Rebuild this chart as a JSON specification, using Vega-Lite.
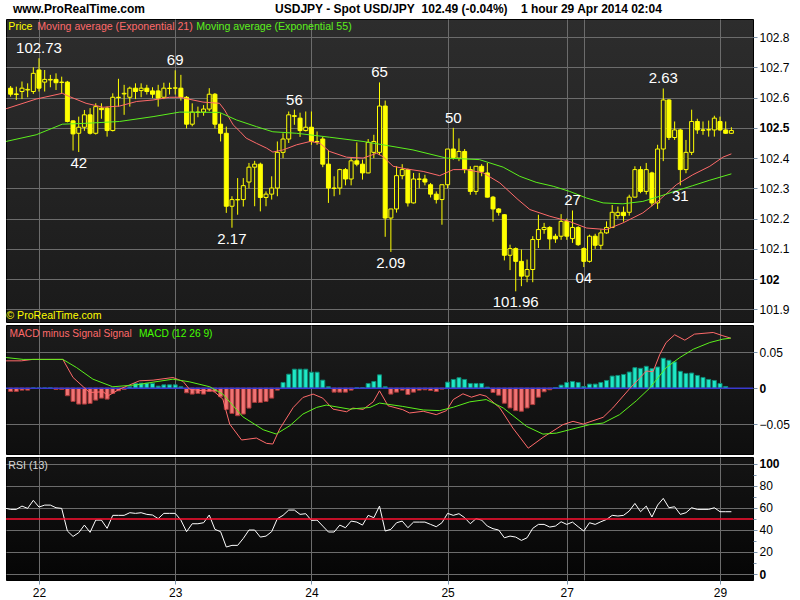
{
  "$schema": "https://vega.github.io/schema/vega-lite/v6.json",
  "background": "white",
  "padding": {"left": 3, "top": 2, "right": 0, "bottom": 0},
  "bounds": "flush",
  "title": {
    "text": "www.ProRealTime.com\u00a0\u00a0\u00a0\u00a0\u00a0\u00a0\u00a0\u00a0\u00a0\u00a0\u00a0\u00a0\u00a0\u00a0\u00a0\u00a0\u00a0\u00a0\u00a0\u00a0\u00a0\u00a0\u00a0\u00a0\u00a0\u00a0\u00a0\u00a0\u00a0\u00a0\u00a0\u00a0\u00a0\u00a0\u00a0\u00a0\u00a0\u00a0\u00a0USDJPY - Spot USD/JPY\u00a0\u00a0102.49 (-0.04%)\u00a0\u00a0\u00a0\u00a01 hour 29 Apr 2014 02:04",
    "anchor": "start",
    "frame": "group",
    "font": "Liberation Sans",
    "fontSize": 12,
    "fontWeight": "bold",
    "color": "black",
    "offset": 3,
    "dx": 7
  },
  "spacing": 3,
  "config": {
    "font": "Liberation Sans",
    "view": {"stroke": "black", "strokeWidth": 1},
    "scale": {"continuousPadding": 0},
    "axis": {
      "domain": false,
      "title": null,
      "gridColor": "#6c6c6c",
      "gridWidth": 1,
      "gridOpacity": 1,
      "labelFont": "Liberation Sans",
      "labelFontSize": 12,
      "labelColor": "black",
      "labelOverlap": false,
      "labelBound": false,
      "labelFlush": false,
      "tickColor": "#7f98b0",
      "tickSize": 4,
      "labelPadding": 2
    }
  },
  "datasets": {
    "bars": [
      {"i": -5, "o": 102.631, "h": 102.638, "l": 102.603, "c": 102.611},
      {"i": -4, "o": 102.612, "h": 102.636, "l": 102.592, "c": 102.610},
      {"i": -3, "o": 102.620, "h": 102.653, "l": 102.595, "c": 102.631},
      {"i": -2, "o": 102.625, "h": 102.647, "l": 102.601, "c": 102.627},
      {"i": -1, "o": 102.620, "h": 102.700, "l": 102.612, "c": 102.680},
      {"i": 0, "o": 102.691, "h": 102.730, "l": 102.620, "c": 102.631},
      {"i": 1, "o": 102.651, "h": 102.691, "l": 102.620, "c": 102.660},
      {"i": 2, "o": 102.658, "h": 102.675, "l": 102.634, "c": 102.660},
      {"i": 3, "o": 102.660, "h": 102.680, "l": 102.625, "c": 102.649},
      {"i": 4, "o": 102.651, "h": 102.669, "l": 102.614, "c": 102.650},
      {"i": 5, "o": 102.651, "h": 102.655, "l": 102.518, "c": 102.521},
      {"i": 6, "o": 102.523, "h": 102.525, "l": 102.425, "c": 102.480},
      {"i": 7, "o": 102.482, "h": 102.537, "l": 102.420, "c": 102.502},
      {"i": 8, "o": 102.502, "h": 102.559, "l": 102.490, "c": 102.543},
      {"i": 9, "o": 102.543, "h": 102.565, "l": 102.478, "c": 102.482},
      {"i": 10, "o": 102.482, "h": 102.581, "l": 102.478, "c": 102.570},
      {"i": 11, "o": 102.565, "h": 102.581, "l": 102.530, "c": 102.560},
      {"i": 12, "o": 102.565, "h": 102.570, "l": 102.471, "c": 102.491},
      {"i": 13, "o": 102.491, "h": 102.614, "l": 102.488, "c": 102.601},
      {"i": 14, "o": 102.601, "h": 102.662, "l": 102.570, "c": 102.600},
      {"i": 15, "o": 102.612, "h": 102.642, "l": 102.543, "c": 102.614},
      {"i": 16, "o": 102.601, "h": 102.636, "l": 102.570, "c": 102.631},
      {"i": 17, "o": 102.631, "h": 102.647, "l": 102.595, "c": 102.620},
      {"i": 18, "o": 102.623, "h": 102.647, "l": 102.601, "c": 102.631},
      {"i": 19, "o": 102.631, "h": 102.642, "l": 102.610, "c": 102.620},
      {"i": 20, "o": 102.622, "h": 102.634, "l": 102.598, "c": 102.611},
      {"i": 21, "o": 102.622, "h": 102.642, "l": 102.570, "c": 102.598},
      {"i": 22, "o": 102.601, "h": 102.649, "l": 102.595, "c": 102.631},
      {"i": 23, "o": 102.631, "h": 102.649, "l": 102.610, "c": 102.630},
      {"i": 24, "o": 102.631, "h": 102.690, "l": 102.610, "c": 102.632},
      {"i": 25, "o": 102.631, "h": 102.675, "l": 102.590, "c": 102.601},
      {"i": 26, "o": 102.601, "h": 102.605, "l": 102.498, "c": 102.512},
      {"i": 27, "o": 102.512, "h": 102.581, "l": 102.505, "c": 102.552},
      {"i": 28, "o": 102.552, "h": 102.570, "l": 102.535, "c": 102.551},
      {"i": 29, "o": 102.552, "h": 102.575, "l": 102.540, "c": 102.562},
      {"i": 30, "o": 102.562, "h": 102.631, "l": 102.555, "c": 102.611},
      {"i": 31, "o": 102.611, "h": 102.615, "l": 102.498, "c": 102.512},
      {"i": 32, "o": 102.512, "h": 102.548, "l": 102.455, "c": 102.482},
      {"i": 33, "o": 102.482, "h": 102.504, "l": 102.219, "c": 102.241},
      {"i": 34, "o": 102.241, "h": 102.274, "l": 102.170, "c": 102.263},
      {"i": 35, "o": 102.263, "h": 102.334, "l": 102.213, "c": 102.262},
      {"i": 36, "o": 102.263, "h": 102.334, "l": 102.240, "c": 102.309},
      {"i": 37, "o": 102.321, "h": 102.384, "l": 102.300, "c": 102.370},
      {"i": 38, "o": 102.370, "h": 102.391, "l": 102.241, "c": 102.380},
      {"i": 39, "o": 102.380, "h": 102.385, "l": 102.224, "c": 102.270},
      {"i": 40, "o": 102.270, "h": 102.290, "l": 102.241, "c": 102.281},
      {"i": 41, "o": 102.281, "h": 102.340, "l": 102.263, "c": 102.301},
      {"i": 42, "o": 102.301, "h": 102.455, "l": 102.274, "c": 102.419},
      {"i": 43, "o": 102.419, "h": 102.482, "l": 102.400, "c": 102.463},
      {"i": 44, "o": 102.463, "h": 102.554, "l": 102.450, "c": 102.543},
      {"i": 45, "o": 102.540, "h": 102.560, "l": 102.510, "c": 102.538},
      {"i": 46, "o": 102.532, "h": 102.550, "l": 102.470, "c": 102.491},
      {"i": 47, "o": 102.491, "h": 102.554, "l": 102.488, "c": 102.502},
      {"i": 48, "o": 102.502, "h": 102.554, "l": 102.444, "c": 102.455},
      {"i": 49, "o": 102.455, "h": 102.488, "l": 102.444, "c": 102.454},
      {"i": 50, "o": 102.463, "h": 102.470, "l": 102.370, "c": 102.380},
      {"i": 51, "o": 102.380, "h": 102.427, "l": 102.252, "c": 102.301},
      {"i": 52, "o": 102.301, "h": 102.340, "l": 102.274, "c": 102.300},
      {"i": 53, "o": 102.301, "h": 102.365, "l": 102.279, "c": 102.362},
      {"i": 54, "o": 102.362, "h": 102.367, "l": 102.310, "c": 102.331},
      {"i": 55, "o": 102.331, "h": 102.400, "l": 102.310, "c": 102.391},
      {"i": 56, "o": 102.391, "h": 102.452, "l": 102.373, "c": 102.380},
      {"i": 57, "o": 102.380, "h": 102.395, "l": 102.329, "c": 102.351},
      {"i": 58, "o": 102.351, "h": 102.463, "l": 102.350, "c": 102.452},
      {"i": 59, "o": 102.419, "h": 102.477, "l": 102.400, "c": 102.455},
      {"i": 60, "o": 102.419, "h": 102.650, "l": 102.410, "c": 102.572},
      {"i": 61, "o": 102.572, "h": 102.590, "l": 102.140, "c": 102.202},
      {"i": 62, "o": 102.202, "h": 102.232, "l": 102.090, "c": 102.232},
      {"i": 63, "o": 102.232, "h": 102.373, "l": 102.220, "c": 102.342},
      {"i": 64, "o": 102.342, "h": 102.380, "l": 102.330, "c": 102.362},
      {"i": 65, "o": 102.362, "h": 102.365, "l": 102.240, "c": 102.252},
      {"i": 66, "o": 102.252, "h": 102.351, "l": 102.250, "c": 102.331},
      {"i": 67, "o": 102.331, "h": 102.351, "l": 102.300, "c": 102.330},
      {"i": 68, "o": 102.331, "h": 102.345, "l": 102.310, "c": 102.321},
      {"i": 69, "o": 102.312, "h": 102.318, "l": 102.270, "c": 102.281},
      {"i": 70, "o": 102.281, "h": 102.290, "l": 102.250, "c": 102.263},
      {"i": 71, "o": 102.263, "h": 102.312, "l": 102.180, "c": 102.312},
      {"i": 72, "o": 102.312, "h": 102.430, "l": 102.300, "c": 102.430},
      {"i": 73, "o": 102.430, "h": 102.500, "l": 102.395, "c": 102.402},
      {"i": 74, "o": 102.400, "h": 102.465, "l": 102.390, "c": 102.422},
      {"i": 75, "o": 102.422, "h": 102.430, "l": 102.350, "c": 102.362},
      {"i": 76, "o": 102.362, "h": 102.373, "l": 102.279, "c": 102.290},
      {"i": 77, "o": 102.290, "h": 102.373, "l": 102.279, "c": 102.373},
      {"i": 78, "o": 102.373, "h": 102.380, "l": 102.340, "c": 102.356},
      {"i": 79, "o": 102.351, "h": 102.384, "l": 102.270, "c": 102.271},
      {"i": 80, "o": 102.271, "h": 102.275, "l": 102.190, "c": 102.232},
      {"i": 81, "o": 102.232, "h": 102.235, "l": 102.210, "c": 102.221},
      {"i": 82, "o": 102.213, "h": 102.215, "l": 102.062, "c": 102.079},
      {"i": 83, "o": 102.079, "h": 102.114, "l": 102.030, "c": 102.101},
      {"i": 84, "o": 102.101, "h": 102.105, "l": 101.960, "c": 102.059},
      {"i": 85, "o": 102.059, "h": 102.098, "l": 101.977, "c": 102.010},
      {"i": 86, "o": 102.010, "h": 102.065, "l": 101.990, "c": 102.032},
      {"i": 87, "o": 102.032, "h": 102.142, "l": 101.990, "c": 102.131},
      {"i": 88, "o": 102.131, "h": 102.213, "l": 102.103, "c": 102.164},
      {"i": 89, "o": 102.164, "h": 102.186, "l": 102.150, "c": 102.171},
      {"i": 90, "o": 102.171, "h": 102.175, "l": 102.098, "c": 102.133},
      {"i": 91, "o": 102.142, "h": 102.150, "l": 102.120, "c": 102.133},
      {"i": 92, "o": 102.142, "h": 102.215, "l": 102.130, "c": 102.191},
      {"i": 93, "o": 102.191, "h": 102.200, "l": 102.130, "c": 102.142},
      {"i": 94, "o": 102.134, "h": 102.227, "l": 102.120, "c": 102.171},
      {"i": 95, "o": 102.171, "h": 102.175, "l": 102.110, "c": 102.114},
      {"i": 96, "o": 102.101, "h": 102.105, "l": 102.040, "c": 102.059},
      {"i": 97, "o": 102.059, "h": 102.147, "l": 102.055, "c": 102.142},
      {"i": 98, "o": 102.142, "h": 102.150, "l": 102.100, "c": 102.112},
      {"i": 99, "o": 102.112, "h": 102.164, "l": 102.098, "c": 102.153},
      {"i": 100, "o": 102.153, "h": 102.191, "l": 102.150, "c": 102.171},
      {"i": 101, "o": 102.171, "h": 102.245, "l": 102.170, "c": 102.221},
      {"i": 102, "o": 102.210, "h": 102.240, "l": 102.200, "c": 102.221},
      {"i": 103, "o": 102.221, "h": 102.240, "l": 102.190, "c": 102.210},
      {"i": 104, "o": 102.221, "h": 102.279, "l": 102.210, "c": 102.271},
      {"i": 105, "o": 102.271, "h": 102.373, "l": 102.270, "c": 102.362},
      {"i": 106, "o": 102.362, "h": 102.373, "l": 102.284, "c": 102.290},
      {"i": 107, "o": 102.290, "h": 102.384, "l": 102.280, "c": 102.362},
      {"i": 108, "o": 102.351, "h": 102.355, "l": 102.241, "c": 102.252},
      {"i": 109, "o": 102.252, "h": 102.444, "l": 102.232, "c": 102.430},
      {"i": 110, "o": 102.430, "h": 102.630, "l": 102.390, "c": 102.592},
      {"i": 111, "o": 102.592, "h": 102.595, "l": 102.460, "c": 102.468},
      {"i": 112, "o": 102.468, "h": 102.521, "l": 102.460, "c": 102.493},
      {"i": 113, "o": 102.493, "h": 102.497, "l": 102.310, "c": 102.362},
      {"i": 114, "o": 102.362, "h": 102.460, "l": 102.350, "c": 102.419},
      {"i": 115, "o": 102.419, "h": 102.560, "l": 102.410, "c": 102.521},
      {"i": 116, "o": 102.521, "h": 102.530, "l": 102.480, "c": 102.493},
      {"i": 117, "o": 102.493, "h": 102.521, "l": 102.477, "c": 102.492},
      {"i": 118, "o": 102.493, "h": 102.524, "l": 102.471, "c": 102.494},
      {"i": 119, "o": 102.493, "h": 102.540, "l": 102.471, "c": 102.532},
      {"i": 120, "o": 102.521, "h": 102.537, "l": 102.490, "c": 102.493},
      {"i": 121, "o": 102.493, "h": 102.521, "l": 102.480, "c": 102.482},
      {"i": 122, "o": 102.482, "h": 102.502, "l": 102.480, "c": 102.491}
    ],
    "ema": [
      {"s": "21", "i": -5.8, "v": 102.563}, {"s": "21", "i": -0.5, "v": 102.595}, {"s": "21", "i": 4.1, "v": 102.614},
      {"s": "21", "i": 5.4, "v": 102.603}, {"s": "21", "i": 8.3, "v": 102.581}, {"s": "21", "i": 11.3, "v": 102.568},
      {"s": "21", "i": 14.2, "v": 102.572}, {"s": "21", "i": 17.2, "v": 102.587}, {"s": "21", "i": 20.1, "v": 102.592},
      {"s": "21", "i": 23, "v": 102.601}, {"s": "21", "i": 24.8, "v": 102.601}, {"s": "21", "i": 28.9, "v": 102.585},
      {"s": "21", "i": 31.8, "v": 102.581}, {"s": "21", "i": 32.7, "v": 102.559}, {"s": "21", "i": 34.2, "v": 102.51},
      {"s": "21", "i": 35.4, "v": 102.488}, {"s": "21", "i": 36.5, "v": 102.466}, {"s": "21", "i": 38.3, "v": 102.449},
      {"s": "21", "i": 40.1, "v": 102.433}, {"s": "21", "i": 41.2, "v": 102.42}, {"s": "21", "i": 43, "v": 102.427},
      {"s": "21", "i": 45.4, "v": 102.444}, {"s": "21", "i": 47.8, "v": 102.455}, {"s": "21", "i": 49.5, "v": 102.449},
      {"s": "21", "i": 51.2, "v": 102.422}, {"s": "21", "i": 54.2, "v": 102.403}, {"s": "21", "i": 57.1, "v": 102.4},
      {"s": "21", "i": 59.5, "v": 102.416}, {"s": "21", "i": 60.6, "v": 102.405}, {"s": "21", "i": 62.4, "v": 102.373},
      {"s": "21", "i": 64.8, "v": 102.364}, {"s": "21", "i": 67.7, "v": 102.356}, {"s": "21", "i": 70.6, "v": 102.342},
      {"s": "21", "i": 73, "v": 102.362}, {"s": "21", "i": 75.3, "v": 102.362}, {"s": "21", "i": 78.3, "v": 102.351},
      {"s": "21", "i": 81.2, "v": 102.318}, {"s": "21", "i": 84.4, "v": 102.263}, {"s": "21", "i": 86.5, "v": 102.23},
      {"s": "21", "i": 90, "v": 102.208}, {"s": "21", "i": 93.4, "v": 102.191}, {"s": "21", "i": 96.5, "v": 102.169},
      {"s": "21", "i": 100, "v": 102.164}, {"s": "21", "i": 102.9, "v": 102.186}, {"s": "21", "i": 106.4, "v": 102.219},
      {"s": "21", "i": 109.4, "v": 102.263}, {"s": "21", "i": 112.3, "v": 102.312}, {"s": "21", "i": 115.2, "v": 102.345},
      {"s": "21", "i": 118.2, "v": 102.373}, {"s": "21", "i": 120.5, "v": 102.403}, {"s": "21", "i": 122, "v": 102.414},
      {"s": "55", "i": -5.8, "v": 102.455}, {"s": "55", "i": -0.5, "v": 102.477}, {"s": "55", "i": 4.1, "v": 102.512},
      {"s": "55", "i": 8.3, "v": 102.515}, {"s": "55", "i": 14.2, "v": 102.521}, {"s": "55", "i": 20.1, "v": 102.537},
      {"s": "55", "i": 24.8, "v": 102.552}, {"s": "55", "i": 31.8, "v": 102.551}, {"s": "55", "i": 34.8, "v": 102.526},
      {"s": "55", "i": 38.3, "v": 102.504}, {"s": "55", "i": 41.2, "v": 102.487}, {"s": "55", "i": 45.4, "v": 102.482},
      {"s": "55", "i": 51.2, "v": 102.469}, {"s": "55", "i": 57.1, "v": 102.455}, {"s": "55", "i": 60.6, "v": 102.444},
      {"s": "55", "i": 65.9, "v": 102.427}, {"s": "55", "i": 71.8, "v": 102.4}, {"s": "55", "i": 77.6, "v": 102.395},
      {"s": "55", "i": 81.8, "v": 102.37}, {"s": "55", "i": 84.7, "v": 102.34}, {"s": "55", "i": 87.6, "v": 102.32},
      {"s": "55", "i": 90.6, "v": 102.307}, {"s": "55", "i": 93.5, "v": 102.29}, {"s": "55", "i": 96.5, "v": 102.268},
      {"s": "55", "i": 99.4, "v": 102.252}, {"s": "55", "i": 102.9, "v": 102.249}, {"s": "55", "i": 106.4, "v": 102.257},
      {"s": "55", "i": 109.4, "v": 102.274}, {"s": "55", "i": 112.3, "v": 102.292}, {"s": "55", "i": 115.2, "v": 102.309},
      {"s": "55", "i": 118.2, "v": 102.327}, {"s": "55", "i": 122, "v": 102.348}
    ],
    "marks": [
      {"t": "102.73", "i": 0, "p": 102.73, "side": "high"},
      {"t": "69", "i": 24, "p": 102.69, "side": "high"},
      {"t": "56", "i": 45, "p": 102.56, "side": "high"},
      {"t": "65", "i": 60, "p": 102.65, "side": "high"},
      {"t": "50", "i": 73, "p": 102.5, "side": "high"},
      {"t": "27", "i": 94, "p": 102.227, "side": "high"},
      {"t": "2.63", "i": 110, "p": 102.63, "side": "high"},
      {"t": "42", "i": 7, "p": 102.42, "side": "low"},
      {"t": "2.17", "i": 34, "p": 102.17, "side": "low"},
      {"t": "2.09", "i": 62, "p": 102.09, "side": "low"},
      {"t": "101.96", "i": 84, "p": 101.96, "side": "low"},
      {"t": "04", "i": 96, "p": 102.04, "side": "low"},
      {"t": "31", "i": 113, "p": 102.31, "side": "low"}
    ],
    "macd": [
      {"s": "MACD", "i": -5.8, "v": 0.038}, {"s": "MACD", "i": -3.1, "v": 0.038}, {"s": "MACD", "i": -1.1, "v": 0.04},
      {"s": "MACD", "i": 4.2, "v": 0.04}, {"s": "MACD", "i": 6, "v": 0.0148}, {"s": "MACD", "i": 7.8, "v": 0.0019},
      {"s": "MACD", "i": 8.9, "v": -0.006}, {"s": "MACD", "i": 11.3, "v": -0.0051}, {"s": "MACD", "i": 12.2, "v": -0.0106},
      {"s": "MACD", "i": 14.2, "v": -0.0014}, {"s": "MACD", "i": 16, "v": 0.0046}, {"s": "MACD", "i": 17.7, "v": 0.0102},
      {"s": "MACD", "i": 20.1, "v": 0.0111}, {"s": "MACD", "i": 23.6, "v": 0.0148}, {"s": "MACD", "i": 25.4, "v": 0.0093},
      {"s": "MACD", "i": 26.5, "v": -0.0014}, {"s": "MACD", "i": 28.9, "v": -0.0037}, {"s": "MACD", "i": 30.7, "v": -0.0037},
      {"s": "MACD", "i": 32.4, "v": -0.0153}, {"s": "MACD", "i": 33.6, "v": -0.05}, {"s": "MACD", "i": 35.7, "v": -0.0722},
      {"s": "MACD", "i": 38.3, "v": -0.0695}, {"s": "MACD", "i": 40.1, "v": -0.0769}, {"s": "MACD", "i": 41.2, "v": -0.0778},
      {"s": "MACD", "i": 42.4, "v": -0.057}, {"s": "MACD", "i": 44.8, "v": -0.0269}, {"s": "MACD", "i": 46.5, "v": -0.013},
      {"s": "MACD", "i": 48.3, "v": -0.0083}, {"s": "MACD", "i": 50, "v": -0.0139}, {"s": "MACD", "i": 51.8, "v": -0.0292},
      {"s": "MACD", "i": 54.2, "v": -0.0329}, {"s": "MACD", "i": 55.3, "v": -0.0278}, {"s": "MACD", "i": 57.1, "v": -0.0296},
      {"s": "MACD", "i": 58.9, "v": -0.019}, {"s": "MACD", "i": 60, "v": -0.0037}, {"s": "MACD", "i": 61.5, "v": -0.0245},
      {"s": "MACD", "i": 64.1, "v": -0.03}, {"s": "MACD", "i": 65.3, "v": -0.0346}, {"s": "MACD", "i": 67.7, "v": -0.0322},
      {"s": "MACD", "i": 70, "v": -0.0369}, {"s": "MACD", "i": 71.8, "v": -0.0313}, {"s": "MACD", "i": 73, "v": -0.0159},
      {"s": "MACD", "i": 74.7, "v": -0.0079}, {"s": "MACD", "i": 76.2, "v": -0.0126}, {"s": "MACD", "i": 77.7, "v": -0.0089},
      {"s": "MACD", "i": 78.8, "v": -0.0112}, {"s": "MACD", "i": 81.2, "v": -0.0276}, {"s": "MACD", "i": 83.5, "v": -0.0556},
      {"s": "MACD", "i": 86.2, "v": -0.0836}, {"s": "MACD", "i": 88.8, "v": -0.0686}, {"s": "MACD", "i": 92.3, "v": -0.0509},
      {"s": "MACD", "i": 94.1, "v": -0.0462}, {"s": "MACD", "i": 95.9, "v": -0.05}, {"s": "MACD", "i": 99.4, "v": -0.0406},
      {"s": "MACD", "i": 101.1, "v": -0.0276}, {"s": "MACD", "i": 104.1, "v": -0.0005}, {"s": "MACD", "i": 105.9, "v": 0.0145},
      {"s": "MACD", "i": 107, "v": 0.0238}, {"s": "MACD", "i": 108.2, "v": 0.0229}, {"s": "MACD", "i": 109.4, "v": 0.0472},
      {"s": "MACD", "i": 110.5, "v": 0.0635}, {"s": "MACD", "i": 112, "v": 0.0743}, {"s": "MACD", "i": 113.8, "v": 0.0668},
      {"s": "MACD", "i": 115.5, "v": 0.0752}, {"s": "MACD", "i": 118.8, "v": 0.0775}, {"s": "MACD", "i": 120.5, "v": 0.0729},
      {"s": "MACD", "i": 121.9, "v": 0.0696},
      {"s": "Signal", "i": -5.8, "v": 0.0426}, {"s": "Signal", "i": -2.8, "v": 0.04}, {"s": "Signal", "i": 4.2, "v": 0.04},
      {"s": "Signal", "i": 6.6, "v": 0.0287}, {"s": "Signal", "i": 9.5, "v": 0.0125}, {"s": "Signal", "i": 13, "v": 0.0019},
      {"s": "Signal", "i": 17.2, "v": 0.0046}, {"s": "Signal", "i": 20.1, "v": 0.0083}, {"s": "Signal", "i": 23.6, "v": 0.0125},
      {"s": "Signal", "i": 26.5, "v": 0.0088}, {"s": "Signal", "i": 30.1, "v": 0.0019}, {"s": "Signal", "i": 32.4, "v": -0.0083},
      {"s": "Signal", "i": 35.9, "v": -0.0398}, {"s": "Signal", "i": 39.5, "v": -0.0579}, {"s": "Signal", "i": 41.8, "v": -0.0639},
      {"s": "Signal", "i": 44.2, "v": -0.0523}, {"s": "Signal", "i": 46.5, "v": -0.0361}, {"s": "Signal", "i": 48.9, "v": -0.0269},
      {"s": "Signal", "i": 50.6, "v": -0.0236}, {"s": "Signal", "i": 54.7, "v": -0.0292}, {"s": "Signal", "i": 58.3, "v": -0.0269},
      {"s": "Signal", "i": 60, "v": -0.0208}, {"s": "Signal", "i": 64.1, "v": -0.0255}, {"s": "Signal", "i": 67.7, "v": -0.0304},
      {"s": "Signal", "i": 70.6, "v": -0.0313}, {"s": "Signal", "i": 73, "v": -0.0266}, {"s": "Signal", "i": 75.9, "v": -0.0191},
      {"s": "Signal", "i": 78.8, "v": -0.0159}, {"s": "Signal", "i": 81.8, "v": -0.0276}, {"s": "Signal", "i": 85.9, "v": -0.0532},
      {"s": "Signal", "i": 88.8, "v": -0.064}, {"s": "Signal", "i": 91.2, "v": -0.0626}, {"s": "Signal", "i": 93.5, "v": -0.0579},
      {"s": "Signal", "i": 97, "v": -0.0509}, {"s": "Signal", "i": 99.4, "v": -0.0486}, {"s": "Signal", "i": 102.3, "v": -0.0369},
      {"s": "Signal", "i": 105.3, "v": -0.0173}, {"s": "Signal", "i": 107.6, "v": 0}, {"s": "Signal", "i": 110.5, "v": 0.0285},
      {"s": "Signal", "i": 112.9, "v": 0.0425}, {"s": "Signal", "i": 115.3, "v": 0.0542}, {"s": "Signal", "i": 118.2, "v": 0.0635},
      {"s": "Signal", "i": 120.5, "v": 0.0682}, {"s": "Signal", "i": 121.9, "v": 0.0696}
    ],
    "hist": [
      {"i": -5, "h": -0.0046}, {"i": -4, "h": -0.0046}, {"i": -3, "h": -0.0028}, {"i": -2, "h": -0.0028},
      {"i": -1, "h": 0.0003}, {"i": 0, "h": 0.0002}, {"i": 1, "h": 0.0002}, {"i": 2, "h": 0.0004},
      {"i": 3, "h": -0.0019}, {"i": 4, "h": -0.0019}, {"i": 5, "h": -0.0106}, {"i": 6, "h": -0.0185},
      {"i": 7, "h": -0.0222}, {"i": 8, "h": -0.0222}, {"i": 9, "h": -0.0213}, {"i": 10, "h": -0.0167},
      {"i": 11, "h": -0.0139}, {"i": 12, "h": -0.0153}, {"i": 13, "h": -0.0074}, {"i": 14, "h": -0.0037},
      {"i": 15, "h": -0.0019}, {"i": 16, "h": 0.0019}, {"i": 17, "h": 0.0065}, {"i": 18, "h": 0.0069},
      {"i": 19, "h": 0.0069}, {"i": 20, "h": 0.0065}, {"i": 21, "h": 0.0028}, {"i": 22, "h": 0.0046},
      {"i": 23, "h": 0.0046}, {"i": 24, "h": 0.0046}, {"i": 25, "h": 0.0019}, {"i": 26, "h": -0.0065},
      {"i": 27, "h": -0.0083}, {"i": 28, "h": -0.0074}, {"i": 29, "h": -0.0083}, {"i": 30, "h": -0.0046},
      {"i": 31, "h": -0.0051}, {"i": 32, "h": -0.012}, {"i": 33, "h": -0.0296}, {"i": 34, "h": -0.0352},
      {"i": 35, "h": -0.0384}, {"i": 36, "h": -0.0361}, {"i": 37, "h": -0.0278}, {"i": 38, "h": -0.0199},
      {"i": 39, "h": -0.0199}, {"i": 40, "h": -0.0185}, {"i": 41, "h": -0.0139}, {"i": 42, "h": -0.0028},
      {"i": 43, "h": 0.0079}, {"i": 44, "h": 0.0194}, {"i": 45, "h": 0.0264}, {"i": 46, "h": 0.0264},
      {"i": 47, "h": 0.0264}, {"i": 48, "h": 0.0222}, {"i": 49, "h": 0.0222}, {"i": 50, "h": 0.0111},
      {"i": 51, "h": 0.0019}, {"i": 52, "h": -0.0056}, {"i": 53, "h": -0.0056}, {"i": 54, "h": -0.0056},
      {"i": 55, "h": -0.0028}, {"i": 56, "h": 0.0005}, {"i": 57, "h": 0.0005}, {"i": 58, "h": 0.0065},
      {"i": 59, "h": 0.0093}, {"i": 60, "h": 0.0185}, {"i": 61, "h": 0.0019}, {"i": 62, "h": -0.0083},
      {"i": 63, "h": -0.0056}, {"i": 64, "h": -0.0028}, {"i": 65, "h": -0.0089}, {"i": 66, "h": -0.0056},
      {"i": 67, "h": -0.0028}, {"i": 68, "h": -0.0023}, {"i": 69, "h": -0.0033}, {"i": 70, "h": -0.0047},
      {"i": 71, "h": -0.0014}, {"i": 72, "h": 0.0084}, {"i": 73, "h": 0.0121}, {"i": 74, "h": 0.0145},
      {"i": 75, "h": 0.0121}, {"i": 76, "h": 0.0065}, {"i": 77, "h": 0.0065}, {"i": 78, "h": 0.0065},
      {"i": 79, "h": 0.0014}, {"i": 80, "h": -0.0061}, {"i": 81, "h": -0.0098}, {"i": 82, "h": -0.021},
      {"i": 83, "h": -0.0276}, {"i": 84, "h": -0.0313}, {"i": 85, "h": -0.0322}, {"i": 86, "h": -0.0276},
      {"i": 87, "h": -0.0229}, {"i": 88, "h": -0.0126}, {"i": 89, "h": -0.0051}, {"i": 90, "h": -0.0023},
      {"i": 91, "h": 0.0009}, {"i": 92, "h": 0.0042}, {"i": 93, "h": 0.0079}, {"i": 94, "h": 0.0093},
      {"i": 95, "h": 0.0079}, {"i": 96, "h": 0.0023}, {"i": 97, "h": 0.0056}, {"i": 98, "h": 0.0056},
      {"i": 99, "h": 0.0079}, {"i": 100, "h": 0.0107}, {"i": 101, "h": 0.0168}, {"i": 102, "h": 0.0177},
      {"i": 103, "h": 0.0191}, {"i": 104, "h": 0.0224}, {"i": 105, "h": 0.0285}, {"i": 106, "h": 0.0276},
      {"i": 107, "h": 0.0304}, {"i": 108, "h": 0.0271}, {"i": 109, "h": 0.0294}, {"i": 110, "h": 0.0416},
      {"i": 111, "h": 0.0388}, {"i": 112, "h": 0.0364}, {"i": 113, "h": 0.0234}, {"i": 114, "h": 0.0205},
      {"i": 115, "h": 0.021}, {"i": 116, "h": 0.0177}, {"i": 117, "h": 0.0149}, {"i": 118, "h": 0.0121},
      {"i": 119, "h": 0.0107}, {"i": 120, "h": 0.0065}, {"i": 121, "h": 0.0023}
    ],
    "rsi": [
      {"i": -5.8, "r": 59.5}, {"i": -5, "r": 58.6}, {"i": -4, "r": 58.6}, {"i": -3, "r": 61.6}, {"i": -2, "r": 59.5},
      {"i": -1, "r": 66.8}, {"i": 0, "r": 60.7}, {"i": 1, "r": 62.5}, {"i": 2, "r": 62.5}, {"i": 3, "r": 60.1},
      {"i": 4, "r": 59.5}, {"i": 5, "r": 39.0}, {"i": 6, "r": 34.1}, {"i": 7, "r": 37.5}, {"i": 8, "r": 44.4},
      {"i": 9, "r": 37.8}, {"i": 10, "r": 48.9}, {"i": 11, "r": 48.9}, {"i": 12, "r": 41.4}, {"i": 13, "r": 53.2},
      {"i": 14, "r": 53.2}, {"i": 15, "r": 53.2}, {"i": 16, "r": 55.6}, {"i": 17, "r": 55.0}, {"i": 18, "r": 55.6},
      {"i": 19, "r": 54.1}, {"i": 20, "r": 53.5}, {"i": 21, "r": 50.2}, {"i": 22, "r": 55.0}, {"i": 23, "r": 55.0},
      {"i": 24, "r": 55.0}, {"i": 25, "r": 48.9}, {"i": 26, "r": 38.4}, {"i": 27, "r": 45.6}, {"i": 28, "r": 45.6},
      {"i": 29, "r": 46.5}, {"i": 30, "r": 53.5}, {"i": 31, "r": 40.5}, {"i": 32, "r": 38.4}, {"i": 33, "r": 24.5},
      {"i": 34, "r": 26.0}, {"i": 35, "r": 26.0}, {"i": 36, "r": 32.3}, {"i": 37, "r": 39.9}, {"i": 38, "r": 39.9},
      {"i": 39, "r": 33.5}, {"i": 40, "r": 34.4}, {"i": 41, "r": 38.4}, {"i": 42, "r": 50.2}, {"i": 43, "r": 53.2},
      {"i": 44, "r": 58.0}, {"i": 45, "r": 58.0}, {"i": 46, "r": 54.1}, {"i": 47, "r": 54.7}, {"i": 48, "r": 48.6},
      {"i": 49, "r": 48.9}, {"i": 50, "r": 43.5}, {"i": 51, "r": 38.1}, {"i": 52, "r": 38.1}, {"i": 53, "r": 44.4},
      {"i": 54, "r": 42.0}, {"i": 55, "r": 48.0}, {"i": 56, "r": 47.1}, {"i": 57, "r": 44.4}, {"i": 58, "r": 53.2},
      {"i": 59, "r": 51.1}, {"i": 60, "r": 61.6}, {"i": 61, "r": 39.0}, {"i": 62, "r": 40.5}, {"i": 63, "r": 46.5},
      {"i": 64, "r": 48.0}, {"i": 65, "r": 42.0}, {"i": 66, "r": 47.1}, {"i": 67, "r": 47.1}, {"i": 68, "r": 47.1},
      {"i": 69, "r": 45.0}, {"i": 70, "r": 42.9}, {"i": 71, "r": 46.5}, {"i": 72, "r": 55.0}, {"i": 73, "r": 53.2},
      {"i": 74, "r": 54.7}, {"i": 75, "r": 51.1}, {"i": 76, "r": 45.6}, {"i": 77, "r": 50.2}, {"i": 78, "r": 48.9},
      {"i": 79, "r": 43.5}, {"i": 80, "r": 41.1}, {"i": 81, "r": 39.9}, {"i": 82, "r": 32.9}, {"i": 83, "r": 34.4},
      {"i": 84, "r": 33.5}, {"i": 85, "r": 30.5}, {"i": 86, "r": 32.9}, {"i": 87, "r": 41.4}, {"i": 88, "r": 45.0},
      {"i": 89, "r": 45.0}, {"i": 90, "r": 42.6}, {"i": 91, "r": 43.5}, {"i": 92, "r": 47.4}, {"i": 93, "r": 45.0},
      {"i": 94, "r": 47.1}, {"i": 95, "r": 42.9}, {"i": 96, "r": 39.0}, {"i": 97, "r": 46.5}, {"i": 98, "r": 45.0},
      {"i": 99, "r": 47.4}, {"i": 100, "r": 49.5}, {"i": 101, "r": 53.2}, {"i": 102, "r": 52.6}, {"i": 103, "r": 53.2},
      {"i": 104, "r": 57.1}, {"i": 105, "r": 64.0}, {"i": 106, "r": 56.5}, {"i": 107, "r": 61.6}, {"i": 108, "r": 51.7},
      {"i": 109, "r": 62.5}, {"i": 110, "r": 68.6}, {"i": 111, "r": 60.1}, {"i": 112, "r": 61.0}, {"i": 113, "r": 54.1},
      {"i": 114, "r": 55.6}, {"i": 115, "r": 60.1}, {"i": 116, "r": 58.6}, {"i": 117, "r": 58.6}, {"i": 118, "r": 58.6},
      {"i": 119, "r": 60.1}, {"i": 120, "r": 56.5}, {"i": 121, "r": 56.5}, {"i": 122, "r": 56.5}
    ],
    "levels": [{"panel": "macd", "v": 0}, {"panel": "rsi", "v": 50}]
  },
  "vconcat": [
    {
      "width": 747,
      "height": 303,
      "view": {
        "stroke": "black",
        "fill": {"gradient": "linear", "x1": 0, "y1": 0, "x2": 0, "y2": 1,
                 "stops": [{"offset": 0, "color": "#2d2d2d"}, {"offset": 1, "color": "#1a1a1a"}]}
      },
      "layer": [
        {
          "data": {"name": "bars"},
          "mark": {"type": "rule", "color": "#ffff00", "strokeWidth": 1},
          "encoding": {
            "x": {
              "field": "i", "type": "quantitative",
              "scale": {"domain": [-5.815, 125.81], "nice": false, "zero": false, "padding": 0},
              "axis": {"values": [0, 24, 48, 72, 93, 96, 120], "tickCount": 30, "labels": false, "ticks": false, "grid": true}
            },
            "y": {
              "field": "l", "type": "quantitative",
              "scale": {"domain": [101.8586, 102.8595], "nice": false, "zero": false, "padding": 0},
              "axis": {
                "orient": "right",
                "values": [101.9, 102, 102.1, 102.2, 102.3, 102.4, 102.5, 102.6, 102.7, 102.8],
                "tickCount": 30,
                "labelExpr": "datum.value == 102 ? '102' : format(datum.value, '.1f')",
                "labelFontWeight": {"condition": {"test": "datum.value == 102 || datum.value == 102.5", "value": "bold"}, "value": "normal"},
                "labelOverlap": false,
                "grid": true
              }
            },
            "y2": {"field": "h"}
          }
        },
        {
          "data": {"name": "bars"},
          "mark": {"type": "bar", "size": 4, "stroke": "#ffff00", "strokeWidth": 1},
          "encoding": {
            "x": {"field": "i", "type": "quantitative"},
            "y": {"field": "o", "type": "quantitative"},
            "y2": {"field": "c"},
            "fill": {"condition": {"test": "datum.c > datum.o", "value": "#242424"}, "value": "#ffff00"}
          }
        },
        {
          "data": {"name": "ema"},
          "mark": {"type": "line", "strokeWidth": 1},
          "encoding": {
            "x": {"field": "i", "type": "quantitative"},
            "y": {"field": "v", "type": "quantitative"},
            "color": {"field": "s", "type": "nominal", "scale": {"domain": ["21", "55"], "range": ["#ff6a6a", "#5cf01c"]}, "legend": null}
          }
        },
        {
          "data": {"name": "marks"},
          "transform": [{"filter": "datum.side == 'high'"}],
          "mark": {"type": "text", "color": "white", "fontSize": 15, "baseline": "alphabetic", "dy": -5},
          "encoding": {
            "x": {"field": "i", "type": "quantitative"},
            "y": {"field": "p", "type": "quantitative"},
            "text": {"field": "t"}
          }
        },
        {
          "data": {"name": "marks"},
          "transform": [{"filter": "datum.side == 'low'"}],
          "mark": {"type": "text", "color": "white", "fontSize": 15, "baseline": "top", "dy": 4},
          "encoding": {
            "x": {"field": "i", "type": "quantitative"},
            "y": {"field": "p", "type": "quantitative"},
            "text": {"field": "t"}
          }
        },
        {
          "data": {"values": [{}]},
          "mark": {"type": "text", "text": "Price", "color": "#ffff00", "fontSize": 10.6, "align": "left", "baseline": "alphabetic"},
          "encoding": {"x": {"datum": -5.4}, "y": {"datum": 102.823}}
        },
        {
          "data": {"values": [{}]},
          "mark": {"type": "text", "text": "Moving average (Exponential 21)", "color": "#ff6a6a", "fontSize": 10.6, "align": "left", "baseline": "alphabetic"},
          "encoding": {"x": {"datum": -0.3}, "y": {"datum": 102.823}}
        },
        {
          "data": {"values": [{}]},
          "mark": {"type": "text", "text": "Moving average (Exponential 55)", "color": "#5cf01c", "fontSize": 10.6, "align": "left", "baseline": "alphabetic"},
          "encoding": {"x": {"datum": 27.7}, "y": {"datum": 102.823}}
        },
        {
          "data": {"values": [{}]},
          "mark": {"type": "text", "text": "© ProRealTime.com", "color": "#ffff00", "fontSize": 10.6, "align": "left", "baseline": "alphabetic"},
          "encoding": {"x": {"datum": -5.75}, "y": {"datum": 101.8685}}
        }
      ]
    },
    {
      "width": 747,
      "height": 129,
      "view": {
        "stroke": "black",
        "fill": {"gradient": "linear", "x1": 0, "y1": 0, "x2": 0, "y2": 1,
                 "stops": [{"offset": 0, "color": "#1c1c1c"}, {"offset": 1, "color": "#0e0e0e"}]}
      },
      "layer": [
        {
          "data": {"name": "hist"},
          "mark": {"type": "bar", "size": 4, "strokeWidth": 1},
          "encoding": {
            "x": {
              "field": "i", "type": "quantitative",
              "scale": {"domain": [-5.815, 125.81], "nice": false, "zero": false, "padding": 0},
              "axis": {"values": [0, 24, 48, 72, 93, 96, 120], "tickCount": 30, "labels": false, "ticks": false, "grid": true}
            },
            "y": {
              "field": "h", "type": "quantitative",
              "scale": {"domain": [-0.0917, 0.0879], "nice": false, "zero": false, "padding": 0},
              "axis": {
                "orient": "right",
                "values": [-0.05, 0, 0.05],
                "tickCount": 30,
                "labelExpr": "datum.value == 0 ? '0' : format(datum.value, '.2f')",
                "labelFontWeight": {"condition": {"test": "datum.value == 0", "value": "bold"}, "value": "normal"},
                "gridOpacity": {"condition": {"test": "datum.value == 0", "value": 0}, "value": 1},
                "labelOverlap": false,
                "grid": true
              }
            },
            "y2": {"datum": 0},
            "fill": {"condition": {"test": "datum.h > 0", "value": "#1fe8c6"}, "value": "#f07474"},
            "stroke": {"condition": {"test": "datum.h > 0", "value": "#0e8a76"}, "value": "#a83838"}
          }
        },
        {
          "data": {"name": "levels"},
          "transform": [{"filter": "datum.panel == 'macd'"}],
          "mark": {"type": "rule", "color": "#3a3ad0", "strokeWidth": 1.5},
          "encoding": {"y": {"field": "v", "type": "quantitative"}}
        },
        {
          "data": {"name": "macd"},
          "mark": {"type": "line", "strokeWidth": 1},
          "encoding": {
            "x": {"field": "i", "type": "quantitative"},
            "y": {"field": "v", "type": "quantitative"},
            "color": {"field": "s", "type": "nominal", "scale": {"domain": ["MACD", "Signal"], "range": ["#44ff00", "#ff6a6a"]}, "legend": null},
            "order": {"field": "i", "type": "quantitative"}
          }
        },
        {
          "data": {"values": [{}]},
          "mark": {"type": "text", "text": "MACD minus Signal Signal", "color": "#ff6a6a", "fontSize": 10.2, "align": "left", "baseline": "alphabetic"},
          "encoding": {"x": {"datum": -5.2}, "y": {"datum": 0.0713}}
        },
        {
          "data": {"values": [{}]},
          "mark": {"type": "text", "text": "MACD (12 26 9)", "color": "#44ff00", "fontSize": 10.2, "align": "left", "baseline": "alphabetic"},
          "encoding": {"x": {"datum": 17.6}, "y": {"datum": 0.0713}}
        }
      ]
    },
    {
      "width": 747,
      "height": 123,
      "view": {
        "stroke": "black",
        "fill": {"gradient": "linear", "x1": 0, "y1": 0, "x2": 0, "y2": 1,
                 "stops": [{"offset": 0, "color": "#141414"}, {"offset": 1, "color": "#050505"}]}
      },
      "layer": [
        {
          "data": {"name": "rsi"},
          "mark": {"type": "line", "color": "white", "strokeWidth": 1},
          "encoding": {
            "x": {
              "field": "i", "type": "quantitative",
              "scale": {"domain": [-5.815, 125.81], "nice": false, "zero": false, "padding": 0},
              "axis": {
                "orient": "bottom",
                "values": [0, 24, 48, 72, 93, 96, 120],
                "tickCount": 30,
                "labelExpr": "datum.value == 0 ? '22' : datum.value == 24 ? '23' : datum.value == 48 ? '24' : datum.value == 72 ? '25' : datum.value == 93 ? '27' : datum.value == 120 ? '29' : ''",
                "tickSize": {"condition": {"test": "datum.value == 96", "value": 0}, "value": 4},
                "labelPadding": 3,
                "labelOverlap": false,
                "grid": true
              }
            },
            "y": {
              "field": "r", "type": "quantitative",
              "scale": {"domain": [-5.4, 106.1], "nice": false, "zero": false, "padding": 0},
              "axis": {
                "orient": "right",
                "values": [0, 10, 20, 30, 40, 50, 60, 70, 80, 90, 100],
                "tickCount": 30,
                "labelExpr": "datum.value % 20 == 0 ? datum.label : ''",
                "labelFontWeight": {"condition": {"test": "datum.value == 0 || datum.value == 100", "value": "bold"}, "value": "normal"},
                "tickSize": {"condition": {"test": "datum.value % 20 != 0", "value": 3}, "value": 4},
                "gridOpacity": {"condition": {"test": "datum.value % 20 != 0", "value": 0}, "value": 1},
                "labelOverlap": false,
                "grid": true
              }
            }
          }
        },
        {
          "data": {"name": "levels"},
          "transform": [{"filter": "datum.panel == 'rsi'"}],
          "mark": {"type": "rule", "color": "#ff1030", "strokeWidth": 1.5},
          "encoding": {"y": {"field": "v", "type": "quantitative"}}
        },
        {
          "data": {"values": [{}]},
          "mark": {"type": "text", "text": "RSI (13)", "color": "#d8d8d8", "fontSize": 10.6, "align": "left", "baseline": "alphabetic"},
          "encoding": {"x": {"datum": -5.4}, "y": {"datum": 95.2}}
        }
      ]
    }
  ]
}
